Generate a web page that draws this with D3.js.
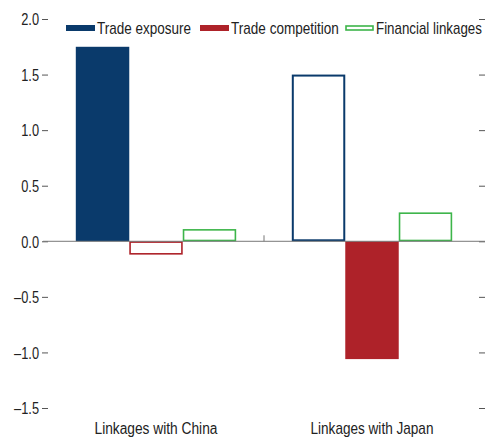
<!DOCTYPE html>
<html><head><meta charset="utf-8">
<script src="https://cdn.jsdelivr.net/npm/d3@7"></script>
<style>body{margin:0;background:#fff}svg{display:block}text{font-family:"Liberation Sans",Arial,sans-serif;fill:#222}</style>
</head><body><svg id="c" width="485" height="438"></svg>
<script>
const categories = ["Linkages with China", "Linkages with Japan"];
const seriesNames = ["Trade exposure", "Trade competition", "Financial linkages"];
const tradeExposure = [1.75, 1.50];
const tradeCompetition = [-0.12, -1.06];
const financialLinkages = [0.11, 0.26];
const yTicks = [2.0, 1.5, 1.0, 0.5, 0.0, -0.5, -1.0, -1.5];
const colors = ["#0a3a6b", "#ae2229", "#3db54a"];
// fill mode per category per series: true = filled, false = outline
const filled = [[true, false, false], [false, true, false]];

const FONT = 16, SQUEEZE = 0.8;
const squeeze = sel => sel.each(function () {
  const w = this.getComputedTextLength();
  d3.select(this).attr("textLength", w * SQUEEZE).attr("lengthAdjust", "spacingAndGlyphs");
});

const svg = d3.select("#c");
const y = d3.scaleLinear().domain([-1.5, 2.0]).range([408, 19]);
const x0 = d3.scaleBand().domain(categories).range([48, 480]).paddingInner(0).paddingOuter(0);
const x1 = d3.scaleBand().domain(seriesNames).range([0, x0.bandwidth()]).paddingOuter(0.52).paddingInner(0);

const fmt = v => (v < 0 ? "\u2013" + Math.abs(v).toFixed(1) : v.toFixed(1));

// left axis
const gl = svg.append("g").attr("transform", "translate(48,0)")
  .call(d3.axisLeft(y).tickValues(yTicks).tickSize(6).tickPadding(3).tickFormat(fmt));
gl.select(".domain").remove();
gl.selectAll(".tick line").attr("stroke", "#555");
gl.selectAll(".tick text").attr("font-size", FONT).attr("fill", "#222").attr("dy", "0.36em")
  .attr("font-family", '"Liberation Sans",Arial,sans-serif').call(squeeze);

// right axis ticks
const gr = svg.append("g").attr("transform", "translate(479,0)")
  .call(d3.axisRight(y).tickValues(yTicks).tickSize(6).tickFormat(""));
gr.select(".domain").remove();
gr.selectAll(".tick line").attr("stroke", "#555");

// bars
const data = categories.map((c, i) => ({c, vals: [tradeExposure[i], tradeCompetition[i], financialLinkages[i]]}));
const g = svg.append("g");
data.forEach((d, i) => {
  d.vals.forEach((v, j) => {
    const f = filled[i][j];
    const sw = f ? 0 : (j === 0 ? 2 : 1.6);
    const x = x0(d.c) + x1(seriesNames[j]);
    const y0 = y(Math.max(0, v)), y1 = y(Math.min(0, v));
    g.append("rect")
      .attr("x", x + sw / 2).attr("y", y0 + sw / 2)
      .attr("width", x1.bandwidth() - sw).attr("height", Math.max(0, y1 - y0 - sw))
      .attr("fill", f ? colors[j] : "#fff")
      .attr("stroke", f ? "none" : colors[j])
      .attr("stroke-width", sw);
  });
});

// zero line
svg.append("line").attr("x1", 43).attr("x2", 485).attr("y1", y(0)).attr("y2", y(0))
  .attr("stroke", "#777").attr("stroke-width", 1);
// category separator tick
svg.append("line").attr("x1", x0(categories[1])).attr("x2", x0(categories[1]))
  .attr("y1", y(0) - 6).attr("y2", y(0)).attr("stroke", "#777").attr("stroke-width", 1);

// horizontally condensed text via transform (keeps bbox accurate)
const condensedText = (parent, x, y, str, targetW, anchor) => {
  const t = parent.append("text").attr("font-size", FONT).text(str);
  const w = t.node().getComputedTextLength();
  const sx = targetW / w;
  const dx = anchor === "middle" ? -targetW / 2 : 0;
  t.attr("transform", `translate(${x + dx},${y}) scale(${sx},1)`);
  return t;
};

// category labels
categories.forEach(c => condensedText(svg, x0(c) + x0.bandwidth() / 2, 434, c, 123, "middle"));

// legend
const legX = [66, 200, 345];
const legTextW = [94, 108, 106];
seriesNames.forEach((s, j) => {
  const lg = svg.append("g").attr("transform", `translate(${legX[j]},28)`);
  if (j < 2) {
    lg.append("rect").attr("x", 0).attr("y", -3).attr("width", 29).attr("height", 6).attr("fill", colors[j]);
  } else {
    lg.append("rect").attr("x", 1).attr("y", -2).attr("width", 27).attr("height", 4)
      .attr("fill", "#fff").attr("stroke", colors[j]).attr("stroke-width", 1.6);
  }
  condensedText(lg, 31, 6, s, legTextW[j], "start");
});
</script></body></html>
